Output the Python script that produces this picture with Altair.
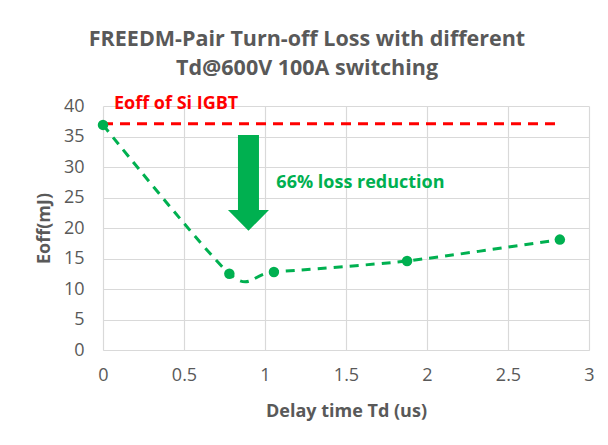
import altair as alt
import pandas as pd

# Data
td = [0, 0.78, 1.055, 1.877, 2.82]
eoff = [36.9, 12.5, 12.8, 14.6, 18.1]

igbt_x = [0, 2.83]
igbt_y = [37.1, 37.1]

arrow_x = [0.898]
arrow_y = [27.4]

label_text = ["Eoff of Si IGBT", "66% loss reduction"]
label_x = [0.068, 1.07]
label_y = [40.3, 27.3]

x_ticks = [0, 0.5, 1, 1.5, 2, 2.5, 3]
y_ticks = [0, 5, 10, 15, 20, 25, 30, 35, 40]

FONT = "Open Sans"
GRAY = "#595959"
GREEN = "#00B050"
RED = "#FF0000"

df = pd.DataFrame({"td": td, "eoff": eoff})
df_igbt = pd.DataFrame({"td": igbt_x, "eoff": igbt_y})
df_arrow = pd.DataFrame({"td": arrow_x, "eoff": arrow_y})
df_red = pd.DataFrame({"td": [label_x[0]], "eoff": [label_y[0]], "t": [label_text[0]]})
df_green = pd.DataFrame({"td": [label_x[1]], "eoff": [label_y[1]], "t": [label_text[1]]})

xs = alt.Scale(domain=[0, 3], nice=False, zero=False)
ys = alt.Scale(domain=[0, 40], nice=False)

xax = alt.Axis(values=x_ticks, format=".1~f", title="Delay time Td (us)", grid=True,
               gridColor="#d9d9d9", gridWidth=1.2, domain=True, domainColor="#d9d9d9",
               domainWidth=1.2, ticks=False, labelPadding=16, labelColor=GRAY,
               labelFont=FONT, labelFontSize=18, titleFont=FONT, titleFontSize=18,
               titleColor=GRAY, titleFontWeight="bold", titlePadding=18,
               labelOverlap=False, labelFlush=False)
yax = alt.Axis(values=y_ticks, title="Eoff(mJ)", grid=True, gridColor="#d9d9d9",
               gridWidth=1.2, domain=False, ticks=False, labelPadding=19, labelColor=GRAY,
               labelFont=FONT, labelFontSize=18, titleFont=FONT, titleFontSize=18,
               titleColor=GRAY, titleFontWeight="bold", titlePadding=10,
               labelOverlap=False, labelFlush=False)

X = alt.X("td:Q", scale=xs, axis=xax)
Y = alt.Y("eoff:Q", scale=ys, axis=yax)

line = alt.Chart(df).mark_line(color=GREEN, strokeWidth=3, strokeDash=[9, 7],
                               interpolate="cardinal", tension=0.25).encode(x=X, y=Y)
pts = alt.Chart(df).mark_circle(color=GREEN, opacity=1, size=110).encode(x=X, y=Y)

igbt = alt.Chart(df_igbt).mark_line(color=RED, strokeWidth=3,
                                    strokeDash=[10, 7]).encode(x=X, y=Y)

arrow_path = ("M -0.512 -2.334 L 0.512 -2.334 L 0.512 1.324 L 1 1.324 L 0 2.334 "
              "L -1 1.324 L -0.512 1.324 Z")
arrow = alt.Chart(df_arrow).mark_point(shape=arrow_path, filled=True, fill=GREEN,
                                       opacity=1, size=1681).encode(x=X, y=Y)

red_txt = alt.Chart(df_red).mark_text(align="left", baseline="middle", font=FONT,
                                      fontSize=18, fontWeight="bold", color=RED).encode(
    x=X, y=Y, text="t:N")
green_txt = alt.Chart(df_green).mark_text(align="left", baseline="middle", font=FONT,
                                          fontSize=18, fontWeight="bold", color=GREEN).encode(
    x=X, y=Y, text="t:N")

chart = alt.layer(igbt, line, pts, arrow, red_txt, green_txt).properties(
    width=486, height=244,
    autosize=alt.AutoSizeParams(type="none"),
    padding={"left": 95, "top": 98, "right": 11, "bottom": 87},
    title=alt.TitleParams(
        text=["FREEDM-Pair Turn-off Loss with different", "Td@600V 100A switching"],
        font=FONT, fontSize=21.5, fontWeight="bold", color=GRAY, anchor="middle",
        frame="group", dx=-39, offset=16, lineHeight=29),
).configure_view(stroke=None)

chart.save("out.html", embed_options={"renderer": "svg", "actions": False})
